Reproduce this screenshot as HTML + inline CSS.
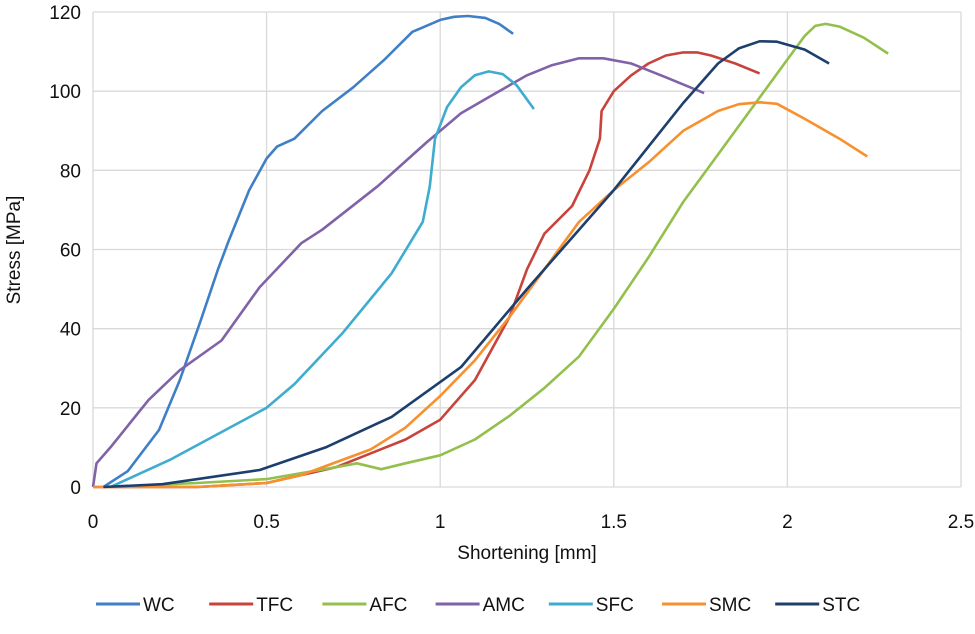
<!DOCTYPE html>
<html><head><meta charset="utf-8"><style>
body{margin:0;background:#fff;width:975px;height:634px;overflow:hidden}
svg{display:block;font-family:"Liberation Sans",sans-serif}
</style></head><body>
<svg id="chart" width="975" height="634"></svg>
<script>
const xTicks=[0,0.5,1,1.5,2,2.5];
const xTickLabels=["0","0.5","1","1.5","2","2.5"];
const yTicks=[0,20,40,60,80,100,120];
const seriesNames=["WC","TFC","AFC","AMC","SFC","SMC","STC"];
const seriesColors=["#3f7fc6","#c8433b","#93c04c","#8062a8","#3eaccf","#f7902e","#1d3f6e"];
const wcX=[0.03,0.1,0.19,0.25,0.31,0.36,0.39,0.45,0.5,0.53,0.58,0.66,0.75,0.84,0.92,0.96,1.0,1.04,1.08,1.13,1.17,1.21];
const wcY=[0,4,14.4,27,42,55,62,75,83,86,88,95,101,108,115,116.5,118,118.8,119,118.5,117,114.5];
const tfcX=[0,0.3,0.5,0.7,0.9,1.0,1.1,1.2,1.25,1.3,1.38,1.43,1.46,1.465,1.5,1.55,1.6,1.65,1.7,1.74,1.78,1.85,1.92];
const tfcY=[0,0,1,5,12,17,27,43,55,64,71,80,88,95,100,104,107,109,109.8,109.8,109,107,104.5];
const afcX=[0.05,0.3,0.5,0.7,0.76,0.83,0.9,1.0,1.1,1.2,1.3,1.4,1.5,1.6,1.7,1.8,1.9,2.0,2.05,2.08,2.11,2.15,2.22,2.29];
const afcY=[0,1,2,5,6,4.5,6,8,12,18,25,33,45,58,72,84,96,108,114,116.5,117,116.3,113.5,109.5];
const amcX=[0,0.01,0.05,0.16,0.25,0.37,0.48,0.6,0.66,0.82,0.96,1.06,1.15,1.25,1.32,1.4,1.47,1.55,1.65,1.76];
const amcY=[0,6,10,22,29.5,37,50.5,61.6,65,76,87,94.4,99,104,106.5,108.3,108.3,107,103.5,99.5];
const sfcX=[0.05,0.22,0.5,0.58,0.72,0.86,0.95,0.97,0.985,1.02,1.06,1.1,1.14,1.18,1.22,1.27];
const sfcY=[0,6.8,20,26,39,54,67,76,88,96,101,104,105,104.3,101.5,95.5];
const smcX=[0,0.3,0.5,0.6,0.8,0.9,1.0,1.1,1.2,1.3,1.4,1.5,1.6,1.7,1.8,1.86,1.92,1.97,2.05,2.15,2.23];
const smcY=[0,0,1,3,9.5,15,23,32,43,55,67,75,82,90,95,96.7,97.2,96.8,93,88,83.5];
const stcX=[0.03,0.2,0.48,0.67,0.86,1.06,1.25,1.35,1.5,1.7,1.8,1.86,1.92,1.97,2.05,2.12];
const stcY=[0,0.7,4.3,10,17.7,30.3,50,60,75,97,107,110.8,112.6,112.5,110.5,107];
const seriesX=[wcX,tfcX,afcX,amcX,sfcX,smcX,stcX];
const seriesY=[wcY,tfcY,afcY,amcY,sfcY,smcY,stcY];

const X0=93,X1=961,Y0=487,Y1=12;
const sx=v=>X0+(v-0)/(2.5-0)*(X1-X0);
const sy=v=>Y0-(v-0)/(120-0)*(Y0-Y1);
const svg=document.getElementById('chart');
const NS="http://www.w3.org/2000/svg";
function mk(t,a,p){const e=document.createElementNS(NS,t);for(const k in a)e.setAttribute(k,a[k]);(p||svg).appendChild(e);return e;}

yTicks.forEach(v=>{
  const g=mk('line',{x1:X0,x2:X1,y1:sy(v),y2:sy(v),stroke:'#d9d9d9','stroke-width':1.3});
  
  
  const t=mk('text',{x:X0-12,y:sy(v)+7,'text-anchor':'end','font-size':19,fill:'#111'});
  t.textContent=v;
  
  
});
xTicks.forEach((v,i)=>{
  const g=mk('line',{x1:sx(v),x2:sx(v),y1:Y1,y2:Y0,stroke:'#d9d9d9','stroke-width':1.3});
  
  
  const t=mk('text',{x:sx(v),y:528,'text-anchor':'middle','font-size':19,fill:'#111'});
  t.textContent=xTickLabels[i];
  
  
});
const xt=mk('text',{x:527,y:559,'text-anchor':'middle','font-size':19,fill:'#111'});
xt.textContent='Shortening [mm]';


const yt=mk('text',{x:0,y:0,'text-anchor':'middle','font-size':19,fill:'#111',transform:'translate(20,250) rotate(-90)'});
yt.textContent='Stress [MPa]';



seriesNames.forEach((n,i)=>{
  const d=seriesX[i].map((x,j)=>(j?'L':'M')+sx(x).toFixed(1)+','+sy(seriesY[i][j]).toFixed(1)).join('');
  const p=mk('path',{d:d,fill:'none',stroke:seriesColors[i],'stroke-width':2.6,'stroke-linejoin':'round'});
  
  
  const lx=96+i*113.2;
  const g=mk('g',{});
  
  
  mk('line',{x1:lx,x2:lx+44,y1:604,y2:604,stroke:seriesColors[i],'stroke-width':3},g);
  const t=mk('text',{x:lx+47,y:611,'font-size':19,fill:'#111'},g);
  t.textContent=n;
});
</script>
</body></html>
